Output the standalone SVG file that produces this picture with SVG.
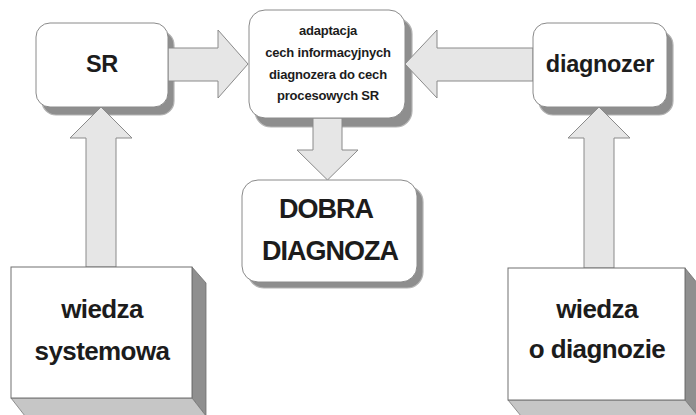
<svg xmlns="http://www.w3.org/2000/svg" width="696" height="415" viewBox="0 0 696 415">
<style>
.bg{fill:#ffffff}
.shadow{fill:#8e8e8e;stroke:#b4b4b4;stroke-width:1.2}
.box{fill:#ffffff;stroke:#8a8a8a;stroke-width:1}
.arrow{fill:#e6e6e6;stroke:#8a8a8a;stroke-width:1;stroke-linejoin:miter}
.face-r{fill:#8f8f8f;stroke:#6e6e6e;stroke-width:0.8}
.face-b{fill:#c6c6c6;stroke:#7a7a7a;stroke-width:0.8}
text{font-family:"Liberation Sans",Arial,Helvetica,sans-serif;font-weight:bold;fill:#1c1c1c;text-anchor:middle}
.t-sm{font-size:13px;letter-spacing:-0.2px}
.t-md{font-size:23.5px;letter-spacing:-0.3px}
.t-lg{font-size:27px;letter-spacing:-1px}
.t-kn{font-size:26px;letter-spacing:-0.6px}
</style>
<rect class="bg" x="0" y="0" width="696" height="415"/>

<g id="shadows">
<rect class="shadow" x="42" y="31" width="132" height="84" rx="14"/>
<rect class="shadow" x="255" y="18" width="157" height="109" rx="16"/>
<rect class="shadow" x="539" y="31" width="134" height="84" rx="14"/>
<rect class="shadow" x="248" y="186" width="175" height="102" rx="16"/>
</g>

<g id="connectors">
<polygon class="arrow" points="168,48 218,48 218,30 248,64 218,98 218,81 168,81"/>
<polygon class="arrow" points="533,48 437,48 437,30 405,64 437,98 437,81 533,81"/>
<polygon class="arrow" points="313,118 342,118 342,150 358,150 327.5,180 297,150 313,150"/>
<polygon class="arrow" points="86,267 86,138 70,138 101,107 132,138 116,138 116,267"/>
<polygon class="arrow" points="584,268 584,138 568,138 599,107 630,138 614,138 614,268"/>
</g>

<g id="node-sr">
<rect class="box" x="36" y="23" width="132" height="84" rx="14"/>
<text class="t-md" x="102" y="72">SR</text>
</g>

<g id="node-adaptacja">
<rect class="box" x="249" y="10" width="156" height="108" rx="16"/>
<text class="t-sm" x="328" y="35">adaptacja</text>
<text class="t-sm" x="328" y="57">cech informacyjnych</text>
<text class="t-sm" x="328" y="79">diagnozera do cech</text>
<text class="t-sm" x="328" y="100">procesowych SR</text>
</g>

<g id="node-diagnozer">
<rect class="box" x="533" y="23" width="134" height="84" rx="14"/>
<text class="t-md" x="600" y="72">diagnozer</text>
</g>

<g id="node-dobra">
<rect class="box" x="242" y="180" width="175" height="102" rx="16"/>
<text class="t-lg" x="326" y="218">DOBRA</text>
<text class="t-lg" x="330" y="260">DIAGNOZA</text>
</g>

<g id="node-wiedza-systemowa">
<polygon class="face-r" points="192,267 206,283 206,416 192,398"/>
<polygon class="face-b" points="11,398 192,398 206,416 25,416"/>
<rect class="box" x="11" y="267" width="181" height="131" style="stroke:#707070"/>
<text class="t-kn" x="102" y="318">wiedza</text>
<text class="t-kn" x="102" y="360">systemowa</text>
</g>

<g id="node-wiedza-o-diagnozie">
<polygon class="face-r" points="685,268 698,284 698,416 685,400"/>
<polygon class="face-b" points="508,400 685,400 698,416 521,416"/>
<rect class="box" x="508" y="268" width="177" height="132" style="stroke:#707070"/>
<text class="t-kn" x="597" y="318">wiedza</text>
<text class="t-kn" x="597" y="358">o diagnozie</text>
</g>
</svg>
